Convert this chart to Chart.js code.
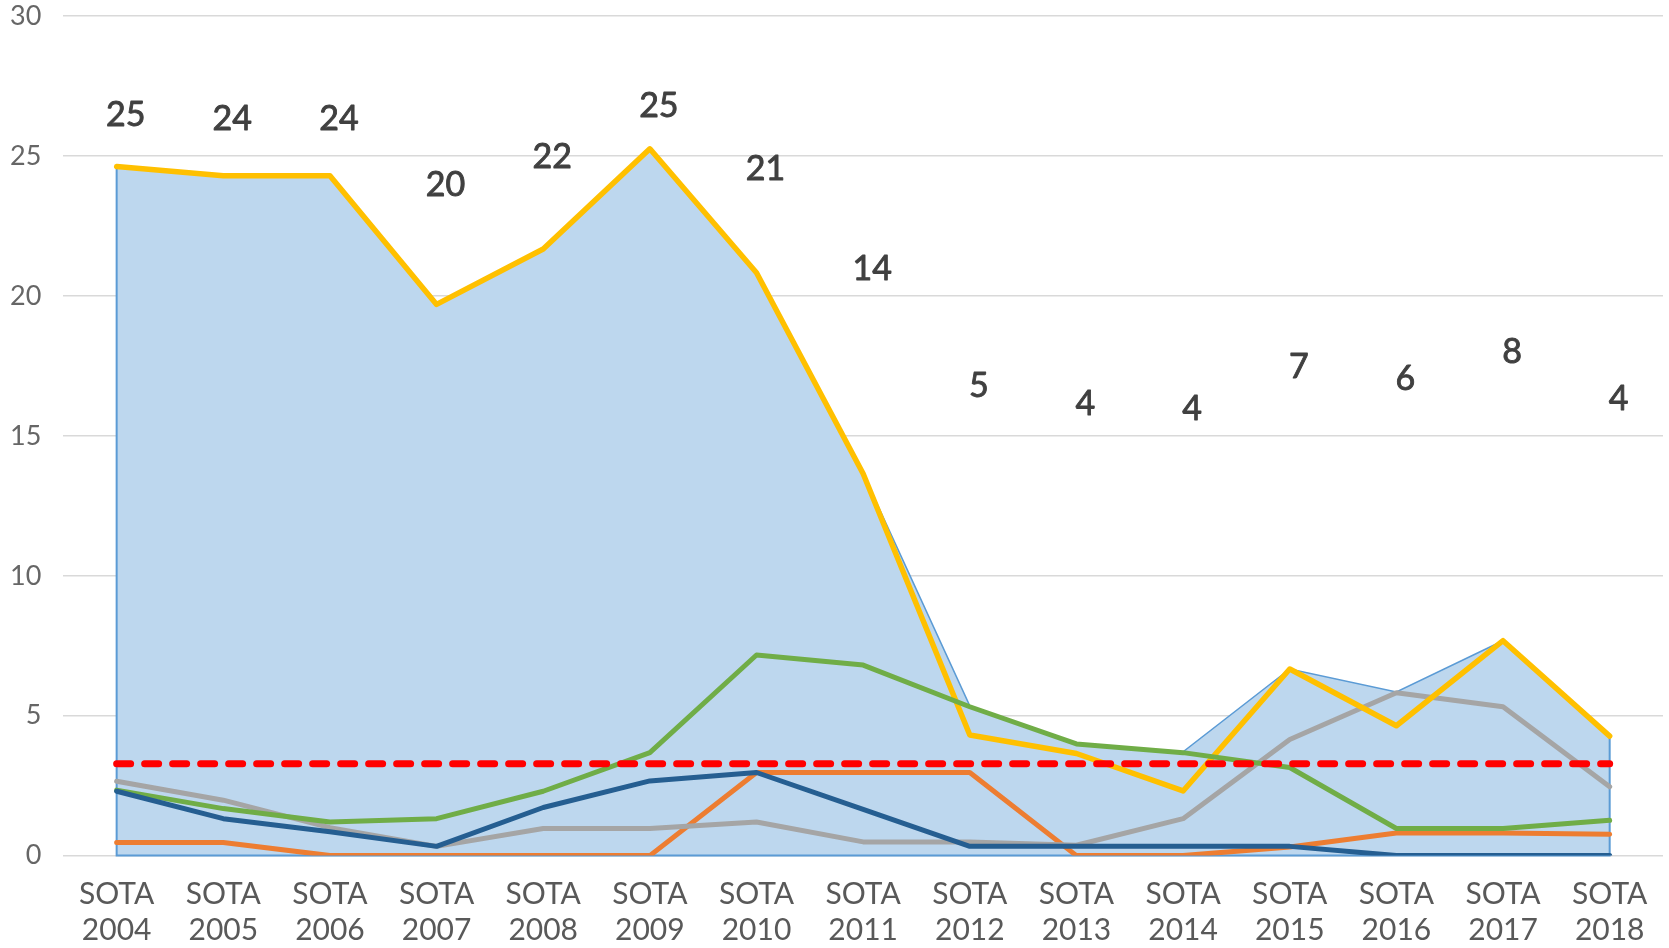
<!DOCTYPE html>
<html>
<head>
<meta charset="utf-8">
<script src="https://cdn.jsdelivr.net/npm/chart.js@4/dist/chart.umd.min.js"></script>
<style>
  html, body { margin: 0; padding: 0; background: #ffffff; }
  #wrap { position: relative; width: 1669px; height: 948px; }
</style>
</head>
<body>
<div id="wrap"><canvas id="c"></canvas></div>
<script>
// ---- data ----
const categories = ['SOTA 2004','SOTA 2005','SOTA 2006','SOTA 2007','SOTA 2008','SOTA 2009','SOTA 2010','SOTA 2011','SOTA 2012','SOTA 2013','SOTA 2014','SOTA 2015','SOTA 2016','SOTA 2017','SOTA 2018'];
const yTickValues = [0, 5, 10, 15, 20, 25, 30];

const areaValues   = [24.63, 24.3, 24.3, 19.7, 21.68, 25.26, 20.83, 13.65, 5.35, 3.99, 3.71, 6.67, 5.85, 7.68, 4.27];
const yellowValues = [24.63, 24.3, 24.3, 19.7, 21.68, 25.26, 20.83, 13.65, 4.31, 3.65, 2.31, 6.67, 4.64, 7.68, 4.27];
const greenValues  = [2.34, 1.68, 1.2, 1.32, 2.3, 3.68, 7.17, 6.81, 5.32, 3.99, 3.68, 3.15, 0.97, 0.97, 1.26];
const navyValues   = [2.3, 1.32, 0.85, 0.33, 1.72, 2.67, 2.97, 1.65, 0.33, 0.33, 0.33, 0.33, 0, 0, 0];
const grayValues   = [2.66, 1.98, 1.0, 0.33, 0.97, 0.97, 1.2, 0.49, 0.49, 0.37, 1.32, 4.15, 5.82, 5.32, 2.46];
const orangeValues = [0.47, 0.47, 0, 0, 0, 0, 2.97, 2.97, 2.97, 0, 0, 0.31, 0.81, 0.81, 0.76];
const averageValues = [3.28, 3.28, 3.28, 3.28, 3.28, 3.28, 3.28, 3.28, 3.28, 3.28, 3.28, 3.28, 3.28, 3.28, 3.28];

const labelTexts  = ['25','24','24','20','22','25','21','14','5','4','4','7','6','8','4'];
const labelLevels = [26.47, 26.33, 26.31, 23.98, 24.97, 26.8, 24.54, 20.98, 16.8, 16.15, 15.97, 17.46, 17.04, 17.99, 16.33];

// ---- plugins ----
const areaOutline = {
  id: 'areaOutline',
  afterDatasetDraw(chart, args) {
    const ds = chart.data.datasets[args.index];
    if (ds.id !== 'area') return;
    const pts = args.meta.data;
    if (!pts.length) return;
    const y0 = chart.scales.y.getPixelForValue(0);
    const ctx = chart.ctx;
    ctx.save();
    ctx.strokeStyle = '#5B9BD5';
    ctx.lineWidth = 2;
    ctx.beginPath();
    ctx.moveTo(pts[0].x, pts[0].y);
    ctx.lineTo(pts[0].x, y0);
    ctx.lineTo(pts[pts.length - 1].x, y0);
    ctx.lineTo(pts[pts.length - 1].x, pts[pts.length - 1].y);
    ctx.stroke();
    ctx.restore();
  }
};

const valueLabels = {
  id: 'valueLabels',
  afterDatasetsDraw(chart) {
    const idx = chart.data.datasets.findIndex(d => d.id === 'labels');
    if (idx < 0) return;
    const meta = chart.getDatasetMeta(idx);
    const ctx = chart.ctx;
    ctx.save();
    ctx.font = '34px Lato, "Open Sans", sans-serif';
    ctx.fillStyle = '#404040';
    ctx.strokeStyle = '#404040';
    ctx.lineWidth = 0.9;
    ctx.lineJoin = 'round';
    ctx.textAlign = 'center';
    ctx.textBaseline = 'middle';
    meta.data.forEach((pt, i) => {
      ctx.fillText(labelTexts[i], pt.x + 9, pt.y);
      ctx.strokeText(labelTexts[i], pt.x + 9, pt.y);
    });
    ctx.restore();
  }
};

const lineStyle = (color, width) => ({
  borderColor: color,
  backgroundColor: color,
  borderWidth: width,
  pointRadius: 0,
  pointHoverRadius: 0,
  fill: false,
  tension: 0,
  borderJoinStyle: 'round',
  borderCapStyle: 'round'
});

new Chart(document.getElementById('c'), {
  type: 'line',
  data: {
    labels: categories.map(c => c.split(' ')),
    datasets: [
      Object.assign({ id: 'average', label: 'Average', data: averageValues, order: 0, borderDash: [14, 14] }, lineStyle('#FF0000', 7)),
      Object.assign({ id: 'navy', label: 'Series 6', data: navyValues, order: 1 }, lineStyle('#255E91', 5)),
      Object.assign({ id: 'green', label: 'Series 5', data: greenValues, order: 2 }, lineStyle('#70AD47', 5)),
      Object.assign({ id: 'yellow', label: 'Series 4', data: yellowValues, order: 3 }, lineStyle('#FFC000', 5.5)),
      Object.assign({ id: 'gray', label: 'Series 3', data: grayValues, order: 4 }, lineStyle('#A5A5A5', 5)),
      Object.assign({ id: 'orange', label: 'Series 2', data: orangeValues, order: 5 }, lineStyle('#ED7D31', 5)),
      {
        id: 'area', label: 'Total', data: areaValues, order: 6,
        borderColor: '#5B9BD5', borderWidth: 1.5, backgroundColor: '#BDD7EE',
        fill: 'origin', pointRadius: 0, pointHoverRadius: 0, tension: 0
      },
      {
        id: 'labels', label: 'labels', data: labelLevels, order: 7,
        showLine: false, pointRadius: 0, pointHoverRadius: 0, borderWidth: 0, fill: false
      }
    ]
  },
  options: {
    responsive: true,
    maintainAspectRatio: false,
    animation: false,
    events: [],
    layout: { padding: { left: 10, right: 6, top: 0, bottom: 0 } },
    plugins: {
      legend: { display: false },
      tooltip: { enabled: false },
      title: { display: false }
    },
    scales: {
      x: {
        offset: true,
        grid: { display: true, drawOnChartArea: false, drawTicks: true, tickLength: 21, tickColor: 'rgba(0,0,0,0)' },
        border: { display: false },
        ticks: {
          autoSkip: false,
          maxRotation: 0,
          minRotation: 0,
          padding: 0,
          color: '#595959',
          font: { family: 'Lato, "Open Sans", sans-serif', size: 30, lineHeight: 1.19 }
        }
      },
      y: {
        min: 0,
        max: 30,
        afterBuildTicks(scale) { scale.ticks = yTickValues.map(v => ({ value: v })); },
        grid: { color: '#D9D9D9', lineWidth: 1.5, drawTicks: true, tickLength: 22, tickColor: 'rgba(0,0,0,0)' },
        border: { display: false },
        ticks: {
          padding: 0,
          color: '#666666',
          font: { family: 'Lato, "Open Sans", sans-serif', size: 27 }
        }
      }
    }
  },
  plugins: [areaOutline, valueLabels]
});
</script>
</body>
</html>
